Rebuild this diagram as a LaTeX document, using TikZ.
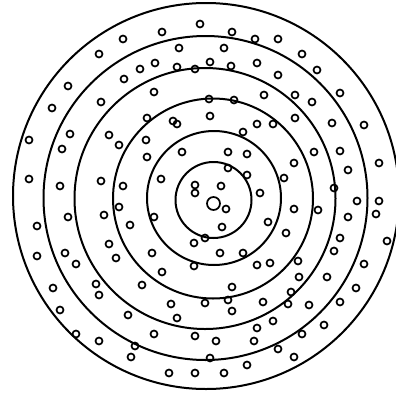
\documentclass[tikz,border=0pt]{standalone}
\begin{document}
\begin{tikzpicture}[x=1pt,y=-1pt,
  ring/.style={line width=2pt},
  dot/.style={line width=1.7pt}]
\useasboundingbox (0,0) rectangle (396,394);
\begin{scope}
\clip (0,0) rectangle (396,394);
\draw[ring] (213.5,200) circle[radius=38];
\draw[ring] (214,198) circle[radius=67];
\draw[ring] (213,198.5) circle[radius=100];
\draw[ring] (205,198.5) circle[radius=130.5];
\draw[ring] (205.5,198) circle[radius=162];
\draw[ring] (206,196) circle[radius=193];
\end{scope}
\draw[dot] (213.5,203.5) circle[radius=6.5];
\foreach \p in {
(200,24),(162,32),(123,39),(99,54),(179,48),(155,63),(140,69),(177,67),(195,69),(124,79),(68,86),(154,92),(52,108),(101,102),(147,118),(173,121),(177,124),(70,134),(109,135),(119,145),(146,140),(29,140),(62,149),(147,157),(182,152),(29,179),(60,186),(101,181),(123,186),(161,179),(195,185),(195,193),
(232,32),(255,39),(278,39),(224,48),(302,54),(210,62),(231,66),(257,63),(317,70),(278,75),(340,93),(264,95),(295,95),(312,102),(209,99),(234,100),(210,116),(257,124),(273,124),(295,118),(332,123),(364,125),(243,132),(228,152),(247,154),(314,152),(340,151),(379,163),(294,163),(348,170),(228,168),(247,175),(284,178),(334,188),(221,186),(260,193),
(226,209),(222,227),(205,238),(194,243),(294,209),(318,210),(357,201),(379,201),(376,214),(348,217),(268,222),(286,233),(340,238),(387,241),(334,251),(220,253),(243,253),(194,266),(257,265),(270,263),(298,261),(364,264),(299,277),(327,277),(232,287),(356,288),(291,292),(228,300),(263,302),(288,304),(309,305),(340,302),(205,303),(232,311),(273,321),(257,328),(324,325),(195,336),(216,341),(254,341),(302,334),(278,349),(210,358),(294,357),(247,365),(224,373),(195,373),
(119,207),(104,215),(68,217),(154,217),(37,226),(130,225),(109,244),(152,253),(37,256),(65,253),(76,264),(116,258),(162,272),(53,288),(96,284),(99,295),(142,285),(60,310),(171,304),(177,318),(128,315),(76,334),(154,334),(99,341),(135,346),(131,357),(169,373)}
  \draw[dot] \p circle[radius=3.5];
\end{tikzpicture}
\end{document}
